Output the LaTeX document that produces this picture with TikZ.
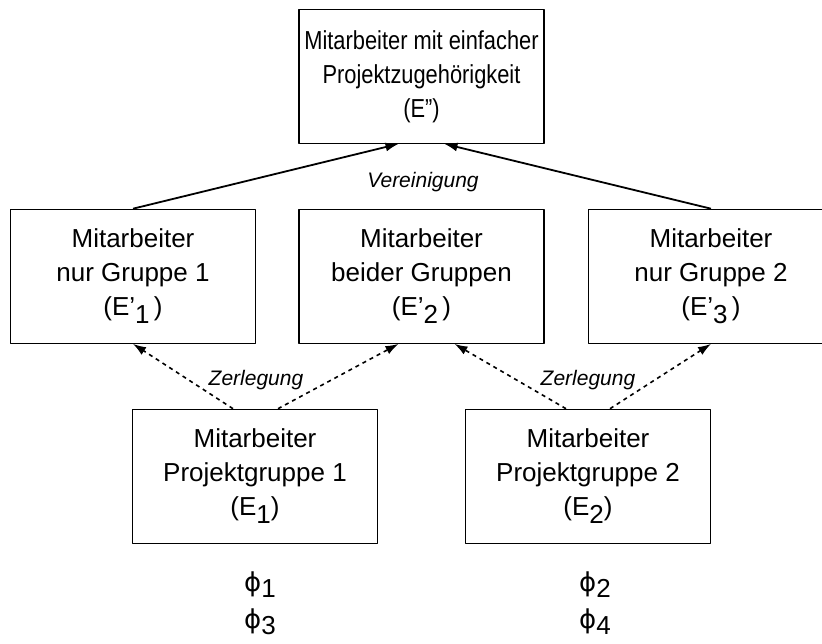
\documentclass[tikz,border=0pt]{standalone}
\usepackage{fontspec}
\setmainfont{Liberation Sans}
\newfontfamily\schmal[FakeStretch=0.84, Ligatures=TeX]{Liberation Sans}
\newfontfamily\phifont{DejaVu Sans}
\usetikzlibrary{arrows.meta}
\newcommand{\tief}[1]{\raisebox{-8pt}{#1}}
\newcommand{\phiidx}[1]{{\phifont ϕ}\raisebox{-6pt}{#1}}
\begin{document}
\begin{tikzpicture}[x=1pt, y=-1pt, line join=round, >={Latex[length=13pt,width=9pt]}, font=\fontsize{26}{34}\selectfont,
	box/.style={draw, line width=1.2pt, minimum width=245pt, minimum height=134pt, align=center, inner sep=0pt},
	pfeil/.style={->, line width=1.8pt}, zerl/.style={->, line width=1.6pt, dash pattern=on 4pt off 4pt}]
	\useasboundingbox (0,0) rectangle (822,644);
	\node[box, font=\schmal\fontsize{26}{34}\selectfont] (ep) at (421.5,76.3) {Mitarbeiter mit einfacher\\Projektzugehörigkeit\\(E'')};
	\node[box] (g1) at (133,276.3) {Mitarbeiter\\nur Gruppe 1\\(E'\tief{1}\,)};
	\node[box] (g2) at (421.5,276.3) {Mitarbeiter\\beider Gruppen\\(E'\tief{2}\,)};
	\node[box] (g3) at (711,276.3) {Mitarbeiter\\nur Gruppe 2\\(E'\tief{3}\,)};
	\node[box] (p1) at (255,476.3) {Mitarbeiter\\Projektgruppe 1\\(E\tief{1})};
	\node[box] (p2) at (588,476.3) {Mitarbeiter\\Projektgruppe 2\\(E\tief{2})};
	\draw[pfeil] (g1.north) -- ([xshift=-23pt]ep.south);
	\draw[pfeil] (g3.north) -- ([xshift=23pt]ep.south);
	\node[font=\fontsize{21}{21}\selectfont\itshape] (ver) at (423,182) {Vereinigung};
	\draw[zerl] ([xshift=-22pt]p1.north) -- (g1.south);
	\draw[zerl] ([xshift=23pt]p1.north) -- ([xshift=-23pt]g2.south);
	\draw[zerl] ([xshift=-22pt]p2.north) -- ([xshift=33pt]g2.south);
	\draw[zerl] ([xshift=22pt]p2.north) -- (g3.south);
	\node[font=\fontsize{21}{21}\selectfont\itshape] (zer1) at (256,380) {Zerlegung};
	\node[font=\fontsize{21}{21}\selectfont\itshape] (zer2) at (588,380) {Zerlegung};
	\node (f1) at (260,585) {\phiidx{1}};
	\node (f3) at (260,622) {\phiidx{3}};
	\node (f2) at (595,585) {\phiidx{2}};
	\node (f4) at (595,622) {\phiidx{4}};
\end{tikzpicture}
\end{document}
